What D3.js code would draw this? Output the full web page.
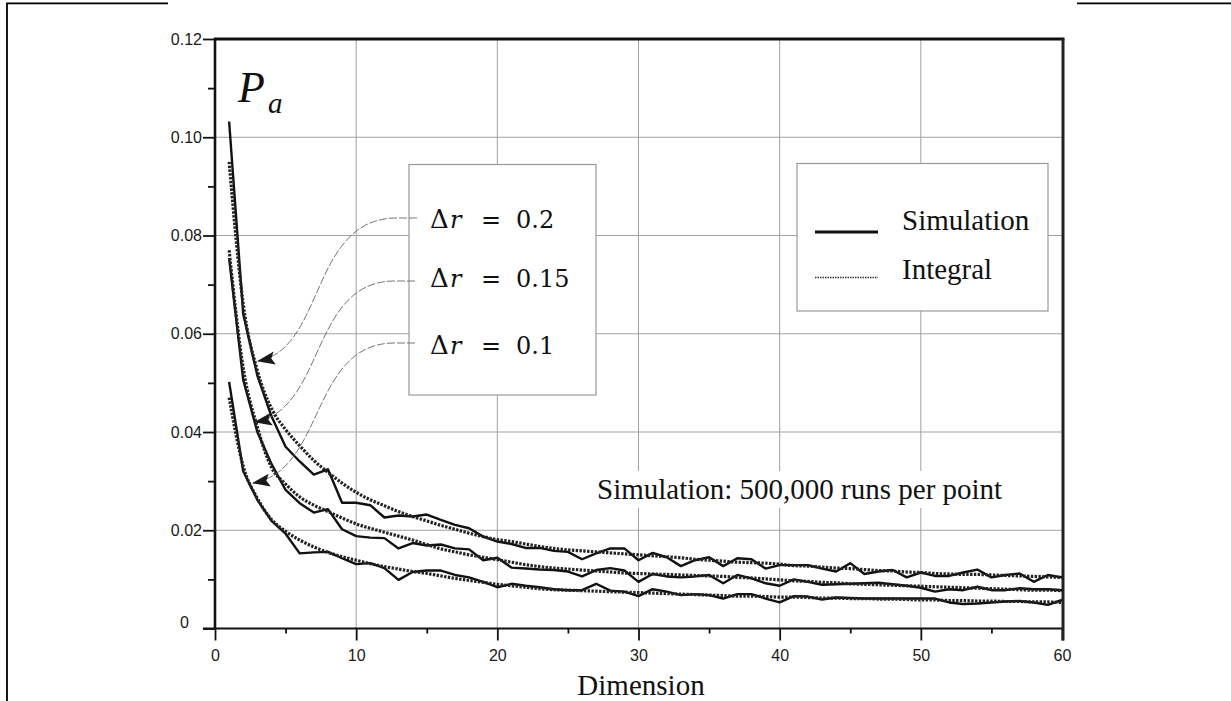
<!DOCTYPE html>
<html>
<head>
<meta charset="utf-8">
<script src="https://cdn.jsdelivr.net/npm/d3@7"></script>
<style>
  html, body { margin: 0; padding: 0; background: #fff; }
  svg { display: block; }
</style>
</head>
<body>
<svg id="chart" width="1231" height="701"></svg>
<script>
// ---------------- data ----------------
const dims = [1,2,3,4,5,6,7,8,9,10,11,12,13,14,15,16,17,18,19,20,21,22,23,24,25,26,27,28,29,30,
              31,32,33,34,35,36,37,38,39,40,41,42,43,44,45,46,47,48,49,50,51,52,53,54,55,56,57,58,59,60];

// Simulation (solid)
const simDr02 = [.1032,.064,.0515,.0432,.037,.034,.0313,.0324,.0256,.0256,
                 .0251,.0226,.023,.0228,.0232,.0221,.0211,.0204,.0187,.0177,
                 .0172,.0164,.0164,.0158,.0156,.0141,.0153,.0163,.0163,.0139,
                 .0154,.0145,.0127,.0139,.0145,.0127,.0143,.0141,.0122,.0129,
                 .0129,.0129,.0122,.0116,.0133,.0111,.0116,.0119,.0104,.0114,
                 .0107,.0107,.0114,.012,.0104,.0109,.0112,.0095,.0109,.0104];
const simDr015 = [.0754,.0506,.040,.0335,.0282,.0255,.0236,.0243,.0202,.0188,
                  .0185,.0184,.0163,.0174,.0169,.0171,.0163,.0161,.0139,.0144,
                  .0124,.0122,.012,.0119,.0116,.0106,.0119,.0123,.0118,.0095,
                  .0111,.0106,.0104,.0106,.0109,.0092,.0109,.0102,.0092,.0087,
                  .01,.0095,.0089,.009,.0091,.0092,.0093,.009,.0087,.0083,
                  .0075,.008,.0078,.0085,.0078,.0078,.0082,.008,.008,.0078];
const simDr01 = [.0502,.032,.0262,.0219,.0193,.0153,.0155,.0156,.0143,.0131,
                 .0133,.0123,.0099,.0115,.0118,.0118,.0109,.0104,.0095,.0084,
                 .0091,.0087,.0084,.008,.0078,.0078,.0091,.0077,.0075,.0066,
                 .008,.0075,.0068,.007,.0068,.0061,.007,.007,.0061,.0053,
                 .0066,.0065,.0059,.0063,.0062,.0061,.0061,.0061,.0061,.0061,
                 .0061,.0053,.005,.0051,.0053,.0055,.0056,.0053,.0048,.0058];

// Integral (dotted)
const intDr02 = [.095,.066,.0525,.0448,.0405,.0372,.0342,.0318,.0296,.0277,
                 .0262,.025,.0238,.0228,.0219,.021,.0202,.0194,.0187,.0181,
                 .0177,.0172,.0167,.0163,.016,.0158,.0156,.0154,.0152,.015,
                 .0148,.0146,.0144,.0141,.0139,.0137,.0135,.0134,.0133,.0131,
                 .0128,.0127,.0125,.0123,.0122,.012,.0118,.0117,.0115,.0114,
                 .0112,.0111,.011,.011,.0109,.0108,.0107,.0106,.0105,.0104];
const intDr015 = [.077,.053,.041,.0328,.0294,.0268,.0251,.0238,.0225,.0213,
                  .0204,.0196,.0188,.018,.0171,.0162,.0156,.015,.0145,.014,
                  .0135,.013,.0126,.0123,.0121,.0119,.0117,.0115,.0113,.0112,
                  .0111,.011,.0109,.0108,.0107,.0106,.0104,.0103,.0101,.0099,
                  .0097,.0096,.0094,.0093,.0091,.009,.0089,.0088,.0087,.0086,
                  .0085,.0084,.0083,.0082,.0081,.008,.0079,.0078,.0078,.0077];
const intDr01 = [.047,.033,.0265,.0222,.0198,.018,.0166,.0155,.0146,.0139,
                 .0132,.0126,.0121,.0116,.0112,.0107,.0102,.0098,.0094,.009,
                 .0087,.0084,.0081,.0079,.0078,.0077,.0076,.0075,.0074,.0073,
                 .0072,.0071,.007,.0069,.0068,.0067,.0066,.0066,.0065,.0064,
                 .0064,.0063,.0062,.0062,.0061,.0061,.006,.006,.0059,.0058,
                 .0058,.0057,.0057,.0056,.0056,.0055,.0055,.0054,.0054,.0053];

const xMajorTicks = [0,10,20,30,40,50,60];
const xMinorTicks = [5,15,25,35,45,55];
const yMajorTicks = [0,0.02,0.04,0.06,0.08,0.10,0.12];
const yTickLabels = ["0","0.02","0.04","0.06","0.08","0.10","0.12"];
const yMinorTicks = [0.01,0.03,0.05,0.07,0.09,0.11];
const xGrid = [10,20,30,40,50];
const yGrid = [0.02,0.04,0.06,0.08,0.10];

const deltaLabels = ["0.2","0.15","0.1"];
const legendLabels = ["Simulation","Integral"];
const xTitle = "Dimension";
const noteText = "Simulation: 500,000 runs per point";

// ---------------- drawing ----------------
const svg = d3.select("#chart");
const x = d3.scaleLinear().domain([0,60]).range([215,1062]);
const y = d3.scaleLinear().domain([0,0.12]).range([628.5,39]);
const serif = "'Liberation Serif','Times New Roman',serif";
const mathSerif = "'DejaVu Serif',serif";
const sans = "'Liberation Sans',Arial,sans-serif";

// outer frame fragments
svg.append("path").attr("d","M7,701 V3.3 H168").attr("fill","none").attr("stroke","#000").attr("stroke-width",1.8);
svg.append("path").attr("d","M1077,3.3 H1231").attr("fill","none").attr("stroke","#000").attr("stroke-width",1.8);

// grid
svg.append("g").selectAll("line").data(xGrid).join("line")
  .attr("x1",d=>x(d)).attr("x2",d=>x(d)).attr("y1",y(0.12)).attr("y2",y(0))
  .attr("stroke","#a0a0a0").attr("stroke-width",1);
svg.append("g").selectAll("line").data(yGrid).join("line")
  .attr("x1",x(0)).attr("x2",x(60)).attr("y1",d=>y(d)).attr("y2",d=>y(d))
  .attr("stroke","#a0a0a0").attr("stroke-width",1);

// axes (ticks + labels)
const gy = svg.append("g").attr("transform",`translate(${x(0)},0)`)
  .call(d3.axisLeft(y).tickValues(yMajorTicks).tickSize(12).tickPadding(1)
        .tickFormat((d,i)=>yTickLabels[i]));
const gyMinor = svg.append("g").attr("transform",`translate(${x(0)},0)`)
  .call(d3.axisLeft(y).tickValues(yMinorTicks).tickSize(7).tickFormat(""));
const gx = svg.append("g").attr("transform",`translate(0,${y(0)})`)
  .call(d3.axisBottom(x).tickValues(xMajorTicks).tickSize(12).tickPadding(9).tickFormat(d3.format("d")));
const gxMinor = svg.append("g").attr("transform",`translate(0,${y(0)})`)
  .call(d3.axisBottom(x).tickValues(xMinorTicks).tickSize(5).tickFormat(""));
[gy,gyMinor,gx,gxMinor].forEach(g=>{
  g.select(".domain").remove();
  g.selectAll(".tick line").attr("stroke","#111").attr("stroke-width",1.8);
  g.selectAll(".tick text").attr("font-family",sans).attr("font-size",16).attr("fill","#1a1a1a");
});
gy.selectAll(".tick").filter(d=>d===0).select("text").attr("x",-26).attr("dy","-0.05em");

// plot frame
svg.append("line").attr("x1",203).attr("x2",x(60)+1).attr("y1",y(0)).attr("y2",y(0)).attr("stroke","#111").attr("stroke-width",2);
svg.append("line").attr("x1",x(0)).attr("x2",x(0)).attr("y1",y(0.12)-1).attr("y2",y(0)).attr("stroke","#111").attr("stroke-width",2.6);
svg.append("line").attr("x1",x(0)-1).attr("x2",x(60)+2.5).attr("y1",y(0.12)).attr("y2",y(0.12)).attr("stroke","#111").attr("stroke-width",3);
svg.append("line").attr("x1",x(60)+1).attr("x2",x(60)+1).attr("y1",y(0.12)).attr("y2",y(0)+12).attr("stroke","#222").attr("stroke-width",3);

// curves
const line = d3.line().x((d,i)=>x(dims[i])).y(d=>y(d));
const smooth = d3.line().x((d,i)=>x(dims[i])).y(d=>y(d)).curve(d3.curveMonotoneX);
const curves = svg.append("g");
[simDr02,simDr015,simDr01].forEach(s=>{
  curves.append("path").attr("d",line(s)).attr("fill","none")
    .attr("stroke","#111").attr("stroke-width",2.4).attr("stroke-linejoin","round");
});
[intDr02,intDr015,intDr01].forEach(s=>{
  curves.append("path").attr("d",smooth(s)).attr("fill","none")
    .attr("stroke","#222").attr("stroke-width",3.2).attr("stroke-dasharray","2.4,1.4");
});

// Delta r box
svg.append("rect").attr("x",409).attr("y",164.5).attr("width",187).attr("height",230.5)
  .attr("fill","#fff").attr("stroke","#999").attr("stroke-width",1.2);
const deltaBase = [228,287,354];
deltaLabels.forEach((lab,i)=>{
  const t = svg.append("text").attr("y",deltaBase[i]).attr("font-family",mathSerif).attr("font-size",24).attr("fill","#111");
  t.append("tspan").attr("x",430).attr("font-size",26).text("\u0394");
  t.append("tspan").attr("x",450).attr("font-style","italic").text("r");
  t.append("tspan").attr("x",481).text("=");
  t.append("tspan").attr("x",516).text(lab);
});

// leader lines with arrows
const defs = svg.append("defs");
defs.append("marker").attr("id","arr").attr("viewBox","0 0 18 14")
  .attr("refX",17).attr("refY",7).attr("markerWidth",18).attr("markerHeight",14)
  .attr("markerUnits","userSpaceOnUse").attr("orient","auto")
  .append("path").attr("d","M0,0.5 L18,7 L0,13.5 L3.5,7 Z").attr("fill","#1a1a1a");
const leaderStarts = [[417,218],[415,281],[415,343]];
const leaderEnds = [[258,361],[255,422],[253,483]];
leaderStarts.forEach((s,i)=>{
  const e = leaderEnds[i];
  const p = d3.path();
  p.moveTo(s[0],s[1]);
  p.lineTo(s[0]-22,s[1]);
  p.bezierCurveTo(310,s[1]+2,325,e[1]-12,e[0],e[1]);
  svg.append("path").attr("d",p.toString()).attr("fill","none")
    .attr("stroke","#666").attr("stroke-width",0.9).attr("stroke-dasharray","8,2")
    .attr("marker-end","url(#arr)");
});

// legend
svg.append("rect").attr("x",797).attr("y",163.5).attr("width",251).attr("height",147.5)
  .attr("fill","#fff").attr("stroke","#999").attr("stroke-width",1.2);
svg.append("line").attr("x1",815).attr("x2",878).attr("y1",232).attr("y2",232)
  .attr("stroke","#111").attr("stroke-width",3);
svg.append("line").attr("x1",815).attr("x2",878).attr("y1",277.5).attr("y2",277.5)
  .attr("stroke","#333").attr("stroke-width",1.6).attr("stroke-dasharray","1.5,1");
svg.append("text").attr("x",902).attr("y",230).attr("font-family",serif).attr("font-size",29).attr("fill","#111").text(legendLabels[0]);
svg.append("text").attr("x",902).attr("y",279).attr("font-family",serif).attr("font-size",29).attr("fill","#111").text(legendLabels[1]);

// note with white background
svg.append("rect").attr("x",591).attr("y",471).attr("width",420).attr("height",37).attr("fill","#fff");
svg.append("text").attr("x",597).attr("y",499).attr("font-family",serif).attr("font-size",29).attr("fill","#111").text(noteText);

// P_a
svg.append("text").attr("x",238).attr("y",101.5).attr("font-size",44)
  .attr("font-family",serif).attr("font-style","italic").attr("fill","#111").text("P");
svg.append("text").attr("x",268).attr("y",113).attr("font-size",29)
  .attr("font-family",serif).attr("font-style","italic").attr("fill","#111").text("a");

// x-axis title
svg.append("text").attr("x",641).attr("y",695).attr("text-anchor","middle")
  .attr("font-family",serif).attr("font-size",29).attr("fill","#111").text(xTitle);
</script>
</body>
</html>
